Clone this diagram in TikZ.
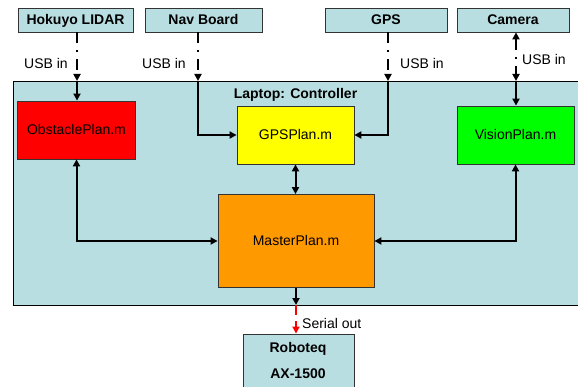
\documentclass[tikz,border=0pt]{standalone}
\usepackage{fontspec}
\setmainfont{Liberation Sans}
\usetikzlibrary{arrows.meta}
\definecolor{lblue}{RGB}{185,222,226}
\definecolor{myorange}{RGB}{255,153,0}
\definecolor{mygreen}{RGB}{0,255,0}
\definecolor{myyellow}{RGB}{255,255,0}
\definecolor{myred}{RGB}{255,0,0}
\tikzset{
  box/.style={draw=black!80, line width=0.8pt, rectangle, inner sep=0pt, align=center,
    font=\fontsize{14}{16}\selectfont, text height=10pt, text depth=0pt},
  devbox/.style={box, fill=lblue, font=\fontsize{14}{16}\selectfont\bfseries},
  modbox/.style={box},
  lbl/.style={inner sep=0pt, font=\fontsize{14}{16}\selectfont},
  blbl/.style={inner sep=0pt, font=\fontsize{14}{16}\selectfont\bfseries},
  tip/.style={-{Triangle[length=7pt,width=7pt]}},
  wire/.style={line width=2pt, draw=black},
  usb/.style={line width=2.5pt, draw=black, dash pattern=on 11pt off 7pt on 2pt off 7pt},
  serial/.style={line width=2pt, draw=myred, dash pattern=on 10pt off 6pt},
}
\begin{document}
\begin{tikzpicture}[x=1pt,y=-1pt]
\useasboundingbox (0,0) rectangle (578,387);
% laptop container
\node[draw=black, line width=0.8pt, fill=lblue, minimum width=569pt, minimum height=224pt, inner sep=0pt] (lap) at (297.5,193) {};
\node[blbl, anchor=base] (laptxt) at (295.5,99) {Laptop: Controller};
% devices
\node[devbox, minimum width=115pt, minimum height=24pt] (hok) at (75.5,20) {Hokuyo LIDAR};
\node[devbox, minimum width=117pt, minimum height=24pt] (nav) at (203.5,20) {Nav Board};
\node[devbox, minimum width=122pt, minimum height=24pt] (gps) at (386,20) {GPS};
\node[devbox, minimum width=112pt, minimum height=24pt] (cam) at (513,20) {Camera};
% modules
\node[modbox, fill=myred, minimum width=118pt, minimum height=58pt] (obs) at (76.5,130) {ObstaclePlan.m};
\node[modbox, fill=myyellow, minimum width=117pt, minimum height=58pt] (gpsp) at (295.5,135) {GPSPlan.m};
\node[modbox, fill=mygreen, minimum width=117pt, minimum height=58pt] (vis) at (515.5,135) {VisionPlan.m};
\node[modbox, fill=myorange, minimum width=156pt, minimum height=93pt] (mas) at (296,241) {MasterPlan.m};
% roboteq
\node[draw=black!80, line width=0.8pt, fill=lblue, minimum width=111pt, minimum height=70pt, inner sep=0pt] (rob) at (298.5,369) {};
\node[blbl, anchor=base] (rob1) at (298,352) {Roboteq};
\node[blbl, anchor=base] (rob2) at (298,378) {AX-1500};
% entry points on laptop border
\coordinate (hin) at (77,81);
\coordinate (nin) at (198,81);
\coordinate (gin) at (388,81);
\coordinate (cin) at (516,81);
\coordinate (lout) at (296,305);
% USB lines
\draw[usb,tip] (hin |- hok.south) -- (hin);
\draw[wire,tip] (hin) -- (hin |- obs.north);
\draw[usb,tip] (nin |- nav.south) -- (nin);
\draw[wire,tip] (nin) |- (gpsp.west);
\draw[usb,tip] (gin |- gps.south) -- (gin);
\draw[wire,tip] (gin) |- (gpsp.east);
\draw[usb,{Triangle[length=7pt,width=7pt]}-{Triangle[length=7pt,width=7pt]}] (cin |- cam.south) -- (cin);
\draw[wire,tip] (cin) -- (cin |- vis.north);
% internal
\draw[wire,{Triangle[length=7pt,width=7pt]}-{Triangle[length=7pt,width=7pt]}] (gpsp.south) -- (gpsp.south |- mas.north);
\draw[wire,{Triangle[length=7pt,width=7pt]}-{Triangle[length=7pt,width=7pt]}] (obs.south) |- (mas.west);
\draw[wire,{Triangle[length=7pt,width=7pt]}-{Triangle[length=7pt,width=7pt]}] (vis.south) |- (mas.east);
\draw[wire,tip] (mas.south) -- (lout);
\draw[serial,tip] (lout) -- (lout |- rob.north);
% labels
\node[lbl, anchor=base west] (u1) at (24,69) {USB in};
\node[lbl, anchor=base west] (u2) at (142,69) {USB in};
\node[lbl, anchor=base west] (u3) at (400,69) {USB in};
\node[lbl, anchor=base west] (u4) at (522,65) {USB in};
\node[lbl, anchor=base west] (ser) at (302,328) {Serial out};
\end{tikzpicture}
\end{document}
